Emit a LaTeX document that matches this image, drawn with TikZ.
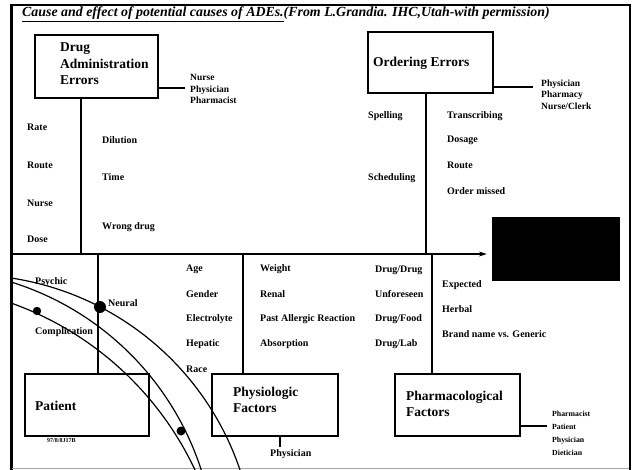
\documentclass[tikz,border=0pt]{standalone}
\usepackage{fontspec}
\setmainfont{Liberation Serif}
\usetikzlibrary{arrows.meta}
\begin{document}
\begin{tikzpicture}[x=1pt,y=-1pt,
  lbl/.style={font=\bfseries\fontsize{10}{11}\selectfont, anchor=west, inner sep=0pt},
  lst/.style={lbl, align=left, font=\bfseries\fontsize{9.5}{11.5}\selectfont},
  slst/.style={lbl, align=left, font=\bfseries\fontsize{7.8}{13}\selectfont},
  boxn/.style={draw, line width=1.4pt, inner sep=0pt},
  btxt/.style={font=\bfseries\fontsize{13.5}{16.5}\selectfont, anchor=west, align=left, inner sep=0pt},
  ln/.style={line width=1.2pt}]
\useasboundingbox (0,0) rectangle (636,470);
\fill[white] (0,0) rectangle (636,470);

% frame
\draw[line width=3pt] (11,4) -- (11,470);
\draw[line width=1.5pt] (10,5) -- (631,5);
\draw[line width=2pt] (630,5) -- (630,470);
\draw[black!35, line width=1pt] (12,468) -- (629,468);

% title
\node[anchor=west, inner sep=0pt, font=\bfseries\itshape\fontsize{13.9}{16}\selectfont] (title) at (22,14)
  {\underline{Cause and effect of potential causes of ADEs.}(From L.Grandia. IHC,Utah-with permission)};

% boxes
\node[boxn, minimum width=123pt, minimum height=63pt] (dae) at (96.5,66.5) {};
\node[btxt] (daeT) at (60,64) {Drug\\Administration\\Errors};
\node[boxn, minimum width=125pt, minimum height=61pt] (ord) at (430.5,62.5) {};
\node[btxt] (ordT) at (373,63) {Ordering Errors};
\node[boxn, minimum width=124pt, minimum height=62pt] (pat) at (87,405) {};
\node[btxt] (patT) at (35,406) {Patient};
\node[boxn, minimum width=126pt, minimum height=62pt] (phy) at (275,405) {};
\node[btxt] (phyT) at (233,400) {Physiologic\\Factors};
\node[boxn, minimum width=125pt, minimum height=62pt] (pha) at (457.5,405) {};
\node[btxt] (phaT) at (406,404) {Pharmacological\\Factors};
\node[fill=black, minimum width=128pt, minimum height=64pt, inner sep=0pt] (effect) at (556,249) {};

% spine
\coordinate (spL) at (11,254);
\draw[ln, -{Stealth[length=8pt,width=5pt]}, shorten >=5pt] (spL) -- (spL -| effect.west);

% bones
\coordinate (v1) at (81,254);
\draw[ln] (dae.south -| v1) -- (v1);
\coordinate (v2) at (426,254);
\draw[ln] (ord.south -| v2) -- (v2);
\coordinate (v3) at (98,254);
\draw[ln] (v3) -- (v3 |- pat.north);
\coordinate (v4) at (243,254);
\draw[ln] (v4) -- (v4 |- phy.north);
\coordinate (v5) at (432,254);
\draw[ln] (v5) -- (v5 |- pha.north);

% side connectors
\coordinate (c1) at (185,88);
\draw[ln] (c1 -| dae.east) -- (c1);
\node[lst] (daeL) at (190,89) {Nurse\\Physician\\Pharmacist};
\coordinate (c2) at (533,87);
\draw[ln] (c2 -| ord.east) -- (c2);
\node[lst] (ordL) at (541,94.5) {Physician\\Pharmacy\\Nurse/Clerk};
\coordinate (c3) at (547,426);
\draw[ln] (c3 -| pha.east) -- (c3);
\node[slst] (phaL) at (552,433.5) {Pharmacist\\Patient\\Physician\\Dietician};
\coordinate (c4) at (280,447);
\draw[ln] (phy.south -| c4) -- (c4);
\node[lbl] (phyL) at (270,454) {Physician};
\node[anchor=west, inner sep=0pt, font=\bfseries\fontsize{6}{7}\selectfont] (stamp) at (47,441) {97/8/8J17B};

% drug administration labels
\node[lbl] (a1) at (27,127) {Rate};
\node[lbl] (a2) at (27,165) {Route};
\node[lbl] (a3) at (27,203) {Nurse};
\node[lbl] (a4) at (27,239) {Dose};
\node[lbl] (a5) at (102,140) {Dilution};
\node[lbl] (a6) at (102,177) {Time};
\node[lbl] (a7) at (102,227) {Wrong drug};

% ordering labels
\node[lbl] (o1) at (368,116) {Spelling};
\node[lbl] (o2) at (368,178) {Scheduling};
\node[lbl] (o3) at (447,116) {Transcribing};
\node[lbl] (o4) at (447,140) {Dosage};
\node[lbl] (o5) at (447,165) {Route};
\node[lbl] (o6) at (447,191) {Order missed};

% patient area
\begin{scope}
\clip (11,254) rectangle (636,470);
\draw[ln] (11,278) arc[start angle=81.4, end angle=15, radius=287pt];
\draw[ln] (11,282) arc[start angle=72.8, end angle=15, radius=290pt];
\draw[ln] (11,303) arc[start angle=70.4, end angle=20, radius=323pt];
\end{scope}
\fill (100,307) circle[radius=6pt];
\fill (37,311) circle[radius=4.2pt];
\fill (181,431) circle[radius=4.5pt];
\node[lbl] (p1) at (35,282) {Psychic};
\node[lbl] (p2) at (108,303) {Neural};
\node[lbl] (p3) at (35,332) {Complication};

% physiologic labels
\node[lbl] (f1) at (186,269) {Age};
\node[lbl] (f2) at (186,294) {Gender};
\node[lbl] (f3) at (186,319) {Electrolyte};
\node[lbl] (f4) at (186,344) {Hepatic};
\node[lbl] (f5) at (186,369) {Race};
\node[lbl] (f6) at (260,269) {Weight};
\node[lbl] (f7) at (260,294) {Renal};
\node[lbl] (f8) at (260,319) {Past Allergic Reaction};
\node[lbl] (f9) at (260,344) {Absorption};

% interactions
\node[lbl] (d1) at (375,270) {Drug/Drug};
\node[lbl] (d2) at (375,294) {Unforeseen};
\node[lbl] (d3) at (375,319) {Drug/Food};
\node[lbl] (d4) at (375,344) {Drug/Lab};

% pharmacological labels
\node[lbl] (h1) at (442,285) {Expected};
\node[lbl] (h2) at (442,309) {Herbal};
\node[lbl] (h3) at (442,334) {Brand name vs. Generic};
\end{tikzpicture}
\end{document}
